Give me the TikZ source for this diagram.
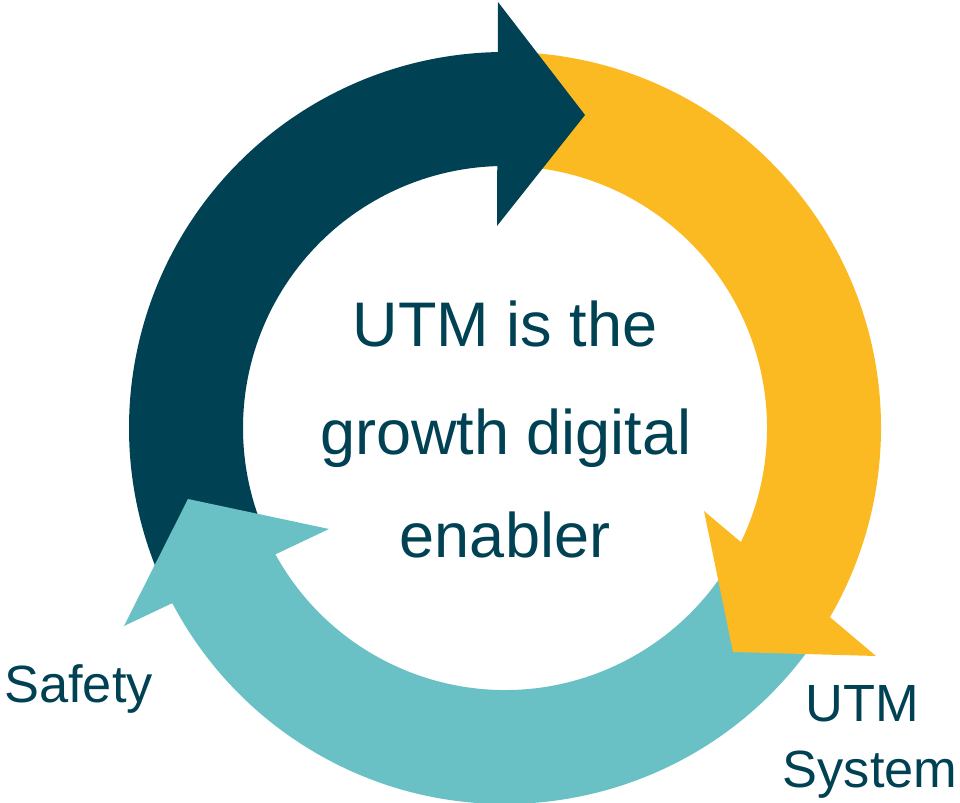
\documentclass[tikz,border=0pt]{standalone}
\usepackage{fontspec}
\setmainfont{Liberation Sans}
\definecolor{dk}{HTML}{004254}
\definecolor{yl}{HTML}{FBBA22}
\definecolor{tl}{HTML}{6AC1C5}
\newcommand\ringseg[3]{\fill[#1] (#2:7.52) arc[start angle=#2,end angle=#3,radius=7.52] -- (#3:5.24) arc[start angle=#3,end angle=#2,radius=5.24] -- cycle;}
\tikzset{
  bigtxt/.style={text=dk, anchor=base, inner sep=0pt, font=\fontsize{35.85}{43}\selectfont},
  lbltxt/.style={text=dk, anchor=base, inner sep=0pt, font=\fontsize{29.8}{36}\selectfont}
}
\begin{document}
\begin{tikzpicture}
\useasboundingbox (-10.1,-7.5) rectangle (9.1,8.56);
% shafts
\ringseg{dk}{203}{88}
\ringseg{yl}{86}{-33}
\ringseg{tl}{-34}{-155}
% heads
\fill[dk] (-0.14,8.52) -- (1.6,6.26) -- (-0.16,4.04) -- cycle;
\fill[yl] (3.98,-1.66) -- (7.42,-4.56) -- (4.56,-4.48) -- cycle;
\fill[tl] (-3.52,-2.02) -- (-7.62,-3.96) -- (-6.34,-1.42) -- cycle;
% text
\node[bigtxt] (l1) at (0,1.62) {UTM is the};
\node[bigtxt] (l2) at (0.02,-0.54) {growth digital};
\node[bigtxt] (l3) at (0,-2.6) {enabler};
\node[lbltxt, anchor=base west] (saf) at (-10.02,-5.5) {Safety};
\node[lbltxt] (utm) at (7.14,-5.88) {UTM};
\node[lbltxt] (sys) at (7.3,-7.2) {System};
\end{tikzpicture}
\end{document}
